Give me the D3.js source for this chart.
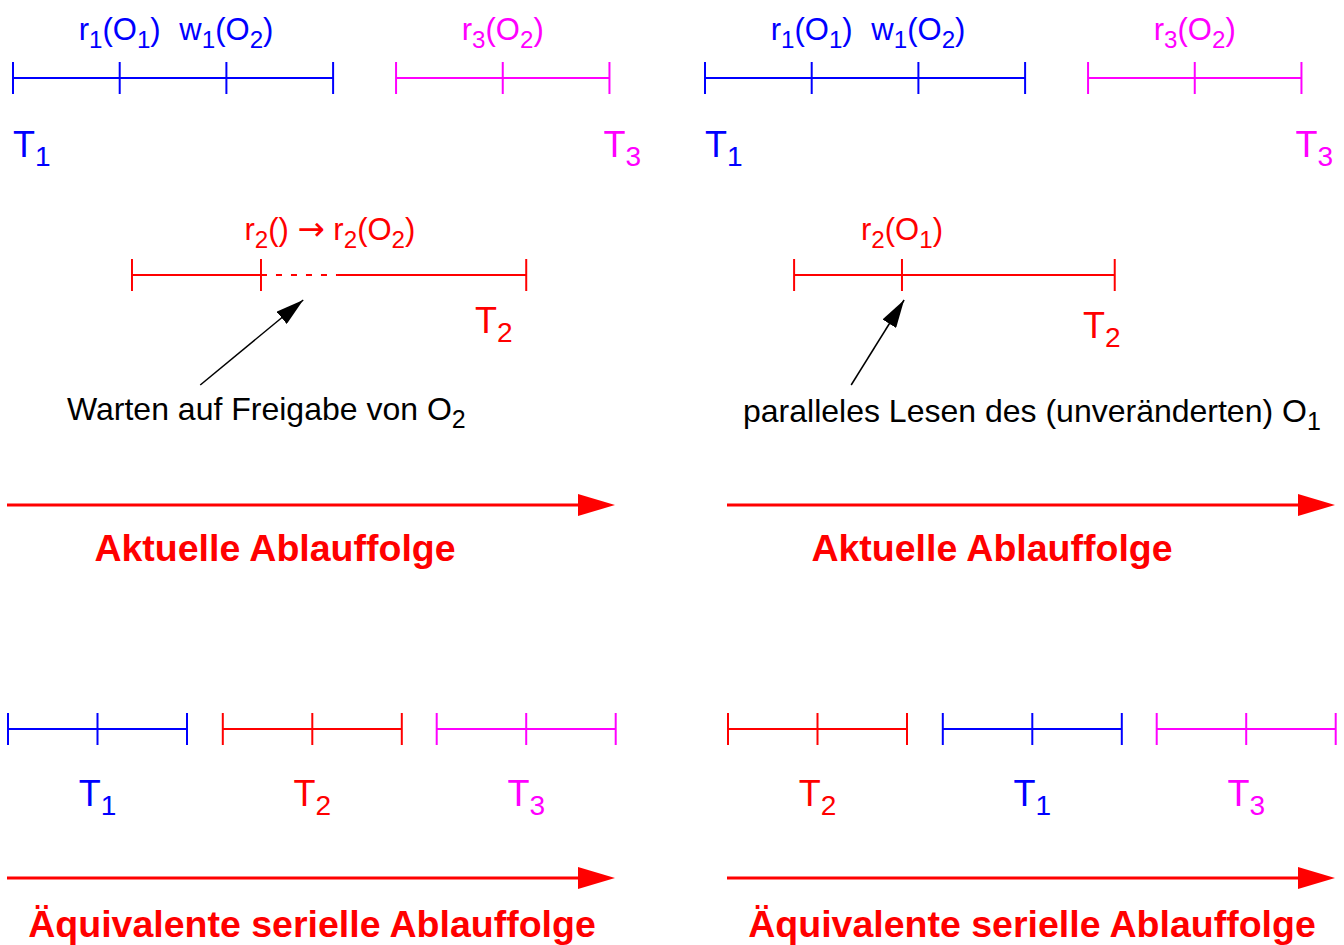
<!DOCTYPE html>
<html lang="de">
<head>
<meta charset="UTF-8">
<script src="https://cdn.jsdelivr.net/npm/d3@7"></script>
<title>Aktuelle und äquivalente serielle Ablauffolge</title>
<style>
  body { margin: 0; background: #fff; }
  text { font-family: "Liberation Sans", Arial, Helvetica, sans-serif; }
</style>
</head>
<body>
<script>
// Farben der Transaktionen
const farben = { T1: "#0000ff", T2: "#ff0000", T3: "#ff00ff" };

// Aktuelle Ablauffolge (Zeiteinheiten)
const aktuellLinks = [
  { t: "T1", von: 0, bis: 3, ticks: [1, 2] },
  { t: "T3", von: 3.59, bis: 5.59, ticks: [4.59] },
  { t: "T2", von: 1.115, bis: 4.81, ticks: [2.324], warten: [2.324, 3.037] }
];
const aktuellRechts = [
  { t: "T1", von: 0, bis: 3, ticks: [1, 2] },
  { t: "T3", von: 3.59, bis: 5.59, ticks: [4.59] },
  { t: "T2", von: 0.835, bis: 3.84, ticks: [1.846] }
];

// Operationen ueber den Zeitstrahlen
const operationenLinks = [
  { t: "T1", bei: 1, text: "r_1(O_1)" },
  { t: "T1", bei: 2, text: "w_1(O_2)" },
  { t: "T3", bei: 4.59, text: "r_3(O_2)" },
  { t: "T2", bei: 2.97, text: "r_2() \u2192 r_2(O_2)" }
];
const operationenRechts = [
  { t: "T1", bei: 1, text: "r_1(O_1)" },
  { t: "T1", bei: 2, text: "w_1(O_2)" },
  { t: "T3", bei: 4.59, text: "r_3(O_2)" },
  { t: "T2", bei: 1.846, text: "r_2(O_1)" }
];

// Kommentare mit Pfeil
const hinweisLinks = { text: "Warten auf Freigabe von O_2", von: [1.755, 0], nach: [2.72, 1] };
const hinweisRechts = { text: "paralleles Lesen des (unver\u00e4nderten) O_1", von: [1.37, 0], nach: [1.866, 1] };

// Aequivalente serielle Ablauffolgen
const seriellLinks = [
  { t: "T1", von: 0, bis: 2, ticks: [1] },
  { t: "T2", von: 2.4, bis: 4.4, ticks: [3.4] },
  { t: "T3", von: 4.79, bis: 6.79, ticks: [5.79] }
];
const seriellRechts = [
  { t: "T2", von: 0, bis: 2, ticks: [1] },
  { t: "T1", von: 2.4, bis: 4.4, ticks: [3.4] },
  { t: "T3", von: 4.79, bis: 6.79, ticks: [5.79] }
];

const titelOben = "Aktuelle Ablauffolge";
const titelUnten = "\u00c4quivalente serielle Ablauffolge";

const w = 1344, h = 945;

const svg = d3.select("body").append("svg")
  .attr("width", w).attr("height", h);

svg.append("defs").append("marker")
  .attr("id", "spitze")
  .attr("viewBox", "0 0 28 16")
  .attr("refX", 28).attr("refY", 8)
  .attr("markerWidth", 28).attr("markerHeight", 16)
  .attr("markerUnits", "userSpaceOnUse")
  .attr("orient", "auto")
  .append("path").attr("d", "M0,0L28,8L0,16Z").attr("fill", "#000");

// Skalen
const xOben = d3.scaleLinear().domain([0, 1]).range([13, 119.7]);
const xUnten = d3.scaleLinear().domain([0, 1]).range([8, 97.5]);
const yZeile = d3.scaleOrdinal().domain(["T1", "T3", "T2"]).range([78, 78, 275]);
const yHinweis = d3.scaleLinear().domain([0, 1]).range([385, 300]);

// Text mit Indizes ("_x"); Pfeil in DejaVu Sans
function setzeText(sel, str, size) {
  let shift = 0;
  str.split(/_(\w)/).forEach((p, i) => {
    if (p === "") return;
    const sub = i % 2 === 1;
    const ziel = sub ? size * 0.25 : 0;
    p.split(/(\u2192)/).forEach((q, j) => {
      if (q === "") return;
      const ts = sel.append("tspan")
        .attr("dy", ziel - shift)
        .attr("font-size", sub ? size * 0.78 : size)
        .text(q);
      if (j % 2 === 1) ts.attr("font-family", "DejaVu Sans").attr("font-size", size * 1.05);
      shift = ziel;
    });
  });
}

function zeitstrahl(g, segs, x, y, tick) {
  segs.forEach(s => {
    const farbe = farben[s.t];
    const yy = y(s.t);
    const teile = s.warten
      ? [[s.von, s.warten[0], null], [s.warten[0], s.warten[1], "6,9"], [s.warten[1], s.bis, null]]
      : [[s.von, s.bis, null]];
    teile.forEach(([a, b, dash]) => {
      g.append("line")
        .attr("x1", x(a)).attr("x2", x(b))
        .attr("y1", yy).attr("y2", yy)
        .attr("stroke", farbe).attr("stroke-width", 2)
        .attr("stroke-dasharray", dash);
    });
    g.selectAll(null)
      .data([s.von, ...s.ticks, s.bis])
      .enter().append("line")
      .attr("x1", d => x(d)).attr("x2", d => x(d))
      .attr("y1", yy - tick).attr("y2", yy + tick)
      .attr("stroke", farbe).attr("stroke-width", 2);
  });
}

function ablaufPfeil(g, x1, x2, y, titel, tx, ty) {
  g.append("line")
    .attr("x1", x1).attr("x2", x2 - 34).attr("y1", y).attr("y2", y)
    .attr("stroke", "#ff0000").attr("stroke-width", 3);
  g.append("path")
    .attr("d", `M${x2 - 37},${y - 11}L${x2},${y}L${x2 - 37},${y + 11}Z`)
    .attr("fill", "#ff0000");
  g.append("text")
    .attr("x", tx).attr("y", ty)
    .attr("text-anchor", "middle")
    .attr("font-size", 37.5).attr("font-weight", "bold")
    .attr("fill", "#ff0000")
    .text(titel);
}

function panelOben(dx, segs, ops, hinweis, tPos) {
  const g = svg.append("g").attr("transform", `translate(${dx},0)`);
  zeitstrahl(g, segs, xOben, yZeile, 16);

  ops.forEach(o => {
    const t = g.append("text")
      .attr("x", xOben(o.bei))
      .attr("y", yZeile(o.t) === 78 ? 40 : 240)
      .attr("text-anchor", "middle")
      .attr("fill", farben[o.t]);
    setzeText(t, o.text, 31);
  });

  tPos.forEach(p => {
    const t = g.append("text")
      .attr("x", p.x).attr("y", p.y)
      .attr("text-anchor", p.anchor)
      .attr("fill", farben[p.t]);
    setzeText(t, p.t.replace("T", "T_"), 36);
  });

  g.append("line")
    .attr("x1", xOben(hinweis.von[0])).attr("y1", yHinweis(hinweis.von[1]))
    .attr("x2", xOben(hinweis.nach[0])).attr("y2", yHinweis(hinweis.nach[1]))
    .attr("stroke", "#000").attr("stroke-width", 1.5)
    .attr("marker-end", "url(#spitze)");
  return g;
}

const gL = panelOben(0, aktuellLinks, operationenLinks, hinweisLinks, [
  { t: "T1", x: 13, y: 157, anchor: "start" },
  { t: "T3", x: 641, y: 157, anchor: "end" },
  { t: "T2", x: 475, y: 333, anchor: "start" }
]);
const tl = gL.append("text").attr("x", 67).attr("y", 420).attr("fill", "#000");
setzeText(tl, hinweisLinks.text, 32);

const gR = panelOben(692, aktuellRechts, operationenRechts, hinweisRechts, [
  { t: "T1", x: 13, y: 157, anchor: "start" },
  { t: "T3", x: 641, y: 157, anchor: "end" },
  { t: "T2", x: 391, y: 338, anchor: "start" }
]);
const tr = gR.append("text").attr("x", 51).attr("y", 422).attr("fill", "#000");
setzeText(tr, hinweisRechts.text, 32);

ablaufPfeil(svg.append("g"), 7, 615, 505, titelOben, 275, 561);
ablaufPfeil(svg.append("g").attr("transform", "translate(720,0)"), 7, 615, 505, titelOben, 272, 561);

function panelUnten(dx, segs) {
  const g = svg.append("g").attr("transform", `translate(${dx},0)`);
  zeitstrahl(g, segs, xUnten, () => 729, 16);
  segs.forEach(s => {
    const t = g.append("text")
      .attr("x", xUnten(s.ticks[0]))
      .attr("y", 806)
      .attr("text-anchor", "middle")
      .attr("fill", farben[s.t]);
    setzeText(t, s.t.replace("T", "T_"), 36);
  });
  ablaufPfeil(g, 7, 615, 878, titelUnten, 312, 937);
}

panelUnten(0, seriellLinks);
panelUnten(720, seriellRechts);
</script>
</body>
</html>
